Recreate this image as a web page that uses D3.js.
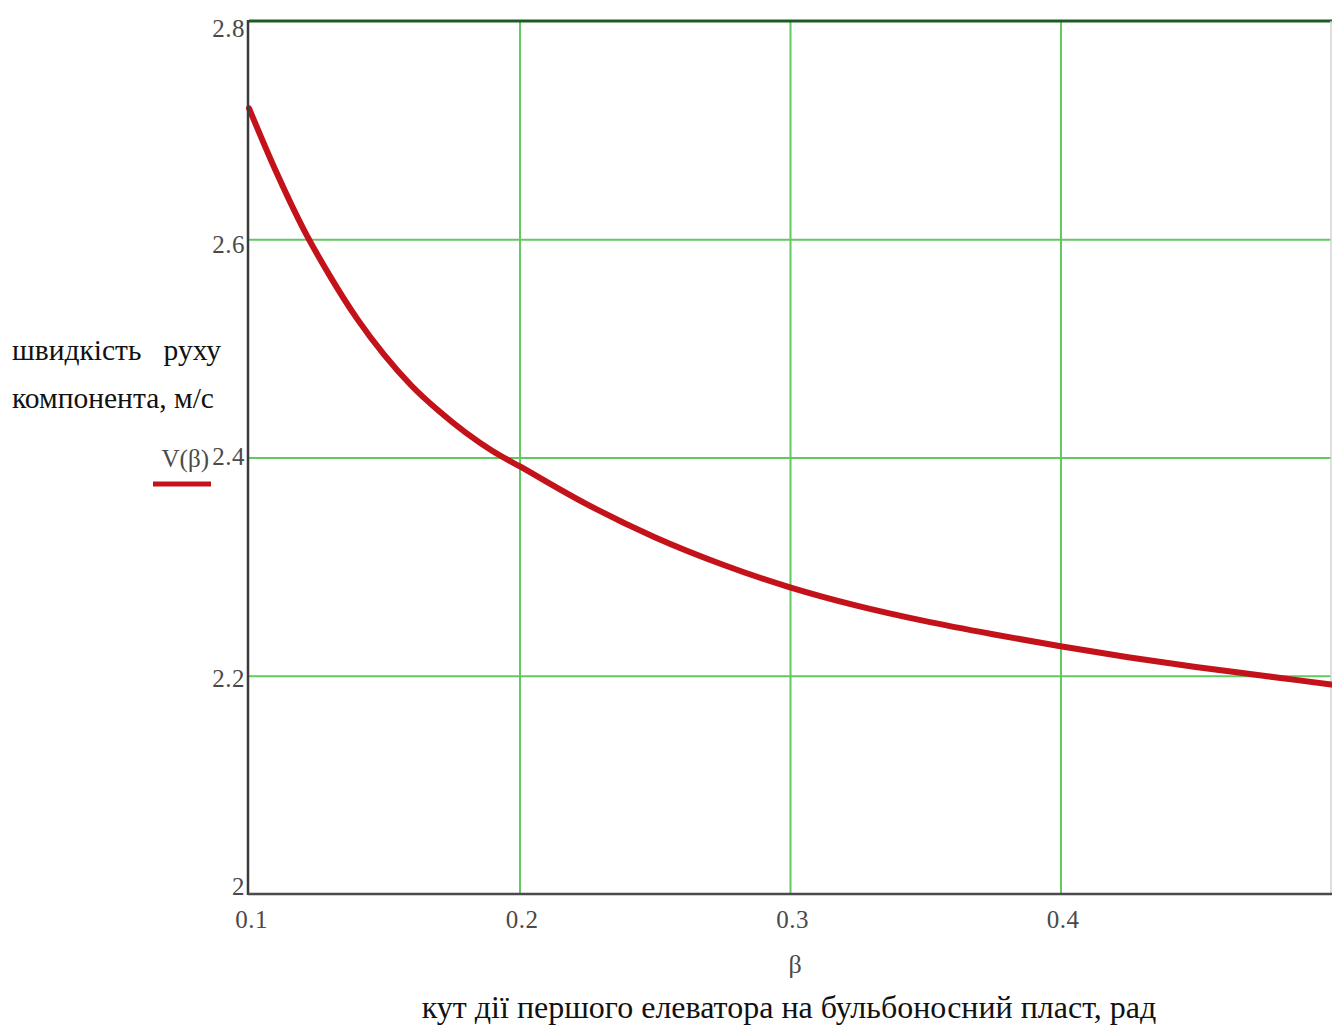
<!DOCTYPE html>
<html>
<head>
<meta charset="utf-8">
<script src="https://cdn.jsdelivr.net/npm/d3@7"></script>
<style>
  html, body { margin: 0; padding: 0; background: #fff; }
  svg { display: block; }
</style>
</head>
<body>
<svg id="chart" width="1332" height="1026"></svg>
<script>
// ---- data ----
const beta = [0.100, 0.110, 0.120, 0.130, 0.140, 0.150, 0.160, 0.170, 0.180, 0.190,
              0.200, 0.225, 0.250, 0.275, 0.300, 0.325, 0.350, 0.375, 0.400, 0.425,
              0.450, 0.475, 0.500];
const velocity = [2.720, 2.662, 2.610, 2.566, 2.527, 2.494, 2.466, 2.443, 2.423, 2.406,
                  2.392, 2.357, 2.327, 2.302, 2.281, 2.264, 2.250, 2.238, 2.227, 2.217,
                  2.208, 2.200, 2.192];
const xTicks = [0.1, 0.2, 0.3, 0.4];
const xTickLabels = ["0.1", "0.2", "0.3", "0.4"];
const xGrid = [0.2, 0.3, 0.4];
const yTicks = [2, 2.2, 2.4, 2.6, 2.8];
const yTickLabels = ["2", "2.2", "2.4", "2.6", "2.8"];
const yGrid = [2.2, 2.4, 2.6];
const xDomain = [0.1, 0.5];
const yDomain = [2, 2.8];
const seriesLabel = "V(β)";
const xSymbol = "β";
const yTitleLines = ["швидкість   руху", "компонента, м/с"];
const xTitle = "кут дії першого елеватора на бульбоносний пласт, рад";

// ---- layout ----
const svg = d3.select("#chart");
const pLeft = 249, pRight = 1331, pTop = 21, pBottom = 894;
const x = d3.scaleLinear().domain(xDomain).range([pLeft, pRight]);
const y = d3.scaleLinear().domain(yDomain).range([pBottom, pTop]);
const serif = "'Liberation Serif', 'Times New Roman', serif";
const tickColor = "#4a4a4a";

// grid
svg.append("g")
  .attr("transform", `translate(0,${pBottom})`)
  .call(d3.axisBottom(x).tickValues(xGrid).tickSize(-(pBottom - pTop)).tickFormat(""))
  .call(g => g.select(".domain").remove())
  .call(g => g.selectAll("line").attr("stroke", "#62c862").attr("stroke-width", 2));
svg.append("g")
  .attr("transform", `translate(${pLeft},0)`)
  .call(d3.axisLeft(y).tickValues(yGrid).tickSize(-(pRight - pLeft)).tickFormat(""))
  .call(g => g.select(".domain").remove())
  .call(g => g.selectAll("line").attr("stroke", "#62c862").attr("stroke-width", 2));

// top line (2.8 grid, dark green) and faint right edge
svg.append("line").attr("x1", pLeft).attr("x2", pRight + 1).attr("y1", y(2.8)).attr("y2", y(2.8))
  .attr("stroke", "#1f5a22").attr("stroke-width", 3);
svg.append("line").attr("x1", x(0.5)).attr("x2", x(0.5)).attr("y1", pTop).attr("y2", pBottom)
  .attr("stroke", "#d4d4d4").attr("stroke-width", 1.5);

// curve
const line = d3.line().x((d, i) => x(beta[i])).y(d => y(d)).curve(d3.curveMonotoneX);
svg.append("path").datum(velocity)
  .attr("d", line)
  .attr("fill", "none")
  .attr("stroke", "#c4121b")
  .attr("stroke-width", 6)
  .attr("stroke-linecap", "round");

// axes frame (left & bottom)
svg.append("line").attr("x1", pLeft - 1).attr("x2", pLeft - 1).attr("y1", pTop - 1).attr("y2", pBottom + 1)
  .attr("stroke", "#3a3a3a").attr("stroke-width", 2.5);
svg.append("line").attr("x1", pLeft - 1).attr("x2", pRight + 1).attr("y1", pBottom).attr("y2", pBottom)
  .attr("stroke", "#4a4a4a").attr("stroke-width", 2.5);

// y tick labels
const yShift = {2: -8, 2.2: 3, 2.4: -1, 2.6: 5, 2.8: 7};
const yAx = svg.append("g")
  .attr("transform", `translate(${pLeft - 4},0)`)
  .call(d3.axisLeft(y).tickValues(yTicks).tickSize(0).tickPadding(0)
        .tickFormat((d, i) => yTickLabels[i]));
yAx.select(".domain").remove();
yAx.selectAll("text")
  .attr("font-family", serif).attr("font-size", 25).attr("fill", tickColor)
  .attr("letter-spacing", 0.5)
  .attr("y", d => yShift[d])
  .attr("dy", "0.32em");

// x tick labels
const xAx = svg.append("g")
  .attr("transform", `translate(2,928)`)
  .call(d3.axisBottom(x).tickValues(xTicks).tickSize(0).tickPadding(0)
        .tickFormat((d, i) => xTickLabels[i]));
xAx.select(".domain").remove();
xAx.selectAll("text")
  .attr("font-family", serif).attr("font-size", 25).attr("fill", tickColor)
  .attr("letter-spacing", 0.5)
  .attr("y", 0)
  .attr("dy", "0");

// series label with red legend line
svg.append("text").attr("x", 209).attr("y", 467)
  .attr("text-anchor", "end")
  .attr("font-family", serif).attr("font-size", 25).attr("fill", tickColor)
  .text(seriesLabel);
svg.append("line").attr("x1", 153).attr("x2", 211).attr("y1", 484).attr("y2", 484)
  .attr("stroke", "#c4121b").attr("stroke-width", 5);

// x symbol
svg.append("text").attr("x", 795).attr("y", 973)
  .attr("text-anchor", "middle")
  .attr("font-family", serif).attr("font-size", 26).attr("fill", tickColor)
  .text(xSymbol);

// titles
svg.append("text").attr("x", 12).attr("y", 360)
  .attr("font-family", serif).attr("font-size", 29.5).attr("fill", "#111")
  .style("white-space", "pre")
  .text(yTitleLines[0]);
svg.append("text").attr("x", 12).attr("y", 408)
  .attr("font-family", serif).attr("font-size", 29.5).attr("fill", "#111")
  .text(yTitleLines[1]);
svg.append("text").attr("x", 789).attr("y", 1018)
  .attr("text-anchor", "middle")
  .attr("font-family", serif).attr("font-size", 32).attr("fill", "#111")
  .text(xTitle);
</script>
</body>
</html>
